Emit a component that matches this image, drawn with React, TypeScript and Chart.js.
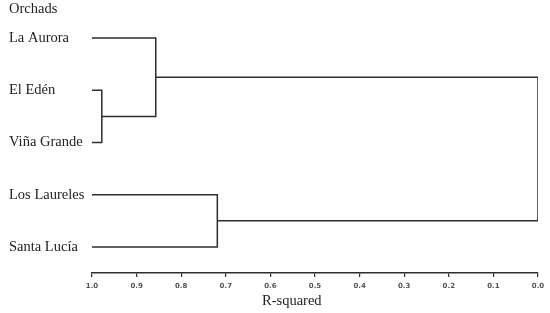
import React, { useEffect, useRef } from "react";
import { Chart, registerables } from "chart.js";

Chart.register(...registerables);

// Leaves of the dendrogram (top to bottom)
const leafNames = ["La Aurora", "El Edén", "Viña Grande", "Los Laureles", "Santa Lucía"];
const leafHeight = 1.0; // R-squared of a single orchard
// Merges: node indices (0..4 leaves, 5.. merged nodes in order)
const mergeLeft = [1, 0, 3, 6];
const mergeRight = [2, 5, 4, 7];
const mergeHeight = [0.978, 0.857, 0.719, 0.0];
// Axis ticks
const xTicks = [1.0, 0.9, 0.8, 0.7, 0.6, 0.5, 0.4, 0.3, 0.2, 0.1, 0.0];
const headerText = "Orchads";
const axisTitle = "R-squared";

const LINE = "#2e2e2e";
const SERIF = "14.5px 'Liberation Serif'";

function buildSegments() {
  const nodeX: number[] = leafNames.map(() => leafHeight);
  const nodeY: number[] = leafNames.map((_, i) => i);
  const segs: { x: number; y: number }[][] = [];
  for (let k = 0; k < mergeHeight.length; k++) {
    const a = mergeLeft[k];
    const b = mergeRight[k];
    const h = mergeHeight[k];
    segs.push([
      { x: nodeX[a], y: nodeY[a] },
      { x: h, y: nodeY[a] },
      { x: h, y: nodeY[b] },
      { x: nodeX[b], y: nodeY[b] },
    ]);
    nodeX.push(h);
    nodeY.push((nodeY[a] + nodeY[b]) / 2);
  }
  return segs;
}

const textPlugin = {
  id: "extraTexts",
  afterDraw(chart: any) {
    const ctx = chart.ctx;
    ctx.save();
    ctx.fillStyle = "#222";
    ctx.textAlign = "left";
    ctx.textBaseline = "alphabetic";
    ctx.font = SERIF;
    ctx.fillText(headerText, 9, 13);
    ctx.fillText(axisTitle, 262, 305);
    ctx.restore();
  },
};

export default function App() {
  const ref = useRef<HTMLCanvasElement | null>(null);
  useEffect(() => {
    document.body.style.margin = "0";
    if (!ref.current) return;
    const segs = buildSegments();
    const chart = new Chart(ref.current, {
      type: "scatter",
      data: {
        datasets: segs.map((s) => ({
          data: s,
          showLine: true,
          borderColor: LINE,
          borderWidth: 1.5,
          pointRadius: 0,
          pointHoverRadius: 0,
          fill: false,
          tension: 0,
        })),
      },
      plugins: [textPlugin],
      options: {
        animation: false,
        responsive: false,
        layout: { padding: { left: 9, right: 12, top: 12, bottom: 0 } },
        plugins: {
          legend: { display: false },
          tooltip: { enabled: false },
          title: { display: false },
        },
        scales: {
          x: {
            type: "linear",
            reverse: true,
            min: 0,
            max: 1,
            afterBuildTicks: (scale: any) => {
              scale.ticks = xTicks.map((v) => ({ value: v }));
            },
            afterFit: (scale: any) => {
              scale.height = 40;
            },
            ticks: {
              callback: (v: any) => Number(v).toFixed(1),
              font: { family: "'DejaVu Sans'", size: 7, weight: "bold" },
              color: "#555",
              padding: 5,
              maxRotation: 0,
              autoSkip: false,
            },
            grid: {
              drawOnChartArea: false,
              drawTicks: true,
              tickLength: 4,
              color: LINE,
              lineWidth: 1.2,
            },
            border: { display: true, color: LINE, width: 1.4 },
          },
          y: {
            type: "linear",
            reverse: true,
            min: -0.5,
            max: 4.5,
            afterBuildTicks: (scale: any) => {
              scale.ticks = leafNames.map((_, i) => ({ value: i }));
            },
            afterFit: (scale: any) => {
              scale.width = 83;
            },
            ticks: {
              callback: (v: any) => leafNames[Math.round(Number(v))] ?? "",
              font: { family: "'Liberation Serif'", size: 14.5 },
              color: "#222",
              crossAlign: "far",
              autoSkip: false,
            },
            grid: { display: false, drawTicks: false },
            border: { display: false },
          },
        },
      } as any,
    });
    return () => chart.destroy();
  }, []);
  return <canvas ref={ref} width={550} height={313} style={{ display: "block" }} />;
}
